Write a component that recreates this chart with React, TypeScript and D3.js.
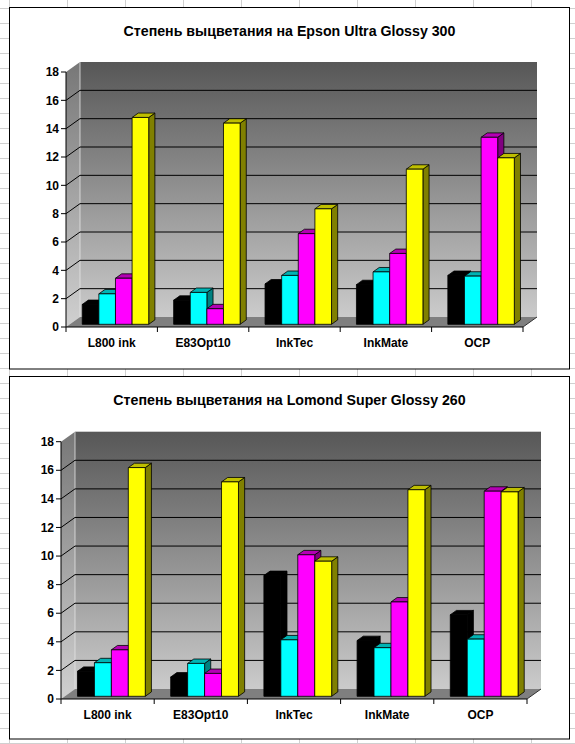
import * as d3 from 'd3'

const CATEGORIES = ['L800 ink', 'E83Opt10', 'InkTec', 'InkMate', 'OCP']
const SERIES = ['black', 'cyan', 'magenta', 'yellow']
const Y_TICKS = [0, 2, 4, 6, 8, 10, 12, 14, 16, 18]

// Epson Ultra Glossy 300
const EPSON_BLACK = [1.4, 1.7, 2.85, 2.8, 3.45]
const EPSON_CYAN = [2.15, 2.25, 3.45, 3.7, 3.4]
const EPSON_MAGENTA = [3.25, 1.1, 6.4, 5.0, 13.2]
const EPSON_YELLOW = [14.6, 14.2, 8.15, 10.95, 11.75]

// Lomond Super Glossy 260
const LOMOND_BLACK = [1.75, 1.35, 8.45, 3.9, 5.7]
const LOMOND_CYAN = [2.35, 2.3, 3.95, 3.4, 4.0]
const LOMOND_MAGENTA = [3.25, 1.6, 9.9, 6.6, 14.35]
const LOMOND_YELLOW = [16.0, 15.0, 9.45, 14.45, 14.3]

const FACES: Record<string, { front: string; top: string; side: string }> = {
  black: { front: '#000000', top: '#000000', side: '#000000' },
  cyan: { front: '#00ffff', top: '#00b4b4', side: '#008080' },
  magenta: { front: '#ff00ff', top: '#b400b4', side: '#800080' },
  yellow: { front: '#ffff00', top: '#bfbf00', side: '#808000' },
}

const FONT = '"Liberation Sans", Arial, sans-serif'
const DX = 14
const DY = 10
// bars sit between these fractions of the floor depth
const F0 = 0.27
const F1 = 0.71

interface Box { x: number; y: number; w: number; h: number }
interface Plot { left: number; right: number; top: number; bottom: number }

const pts = (p: [number, number][]) => p.map((d) => d.join(',')).join(' ')

function Chart({ id, title, box, plot, values }: {
  id: string
  title: string
  box: Box
  plot: Plot
  values: number[][]
}) {
  const x = d3.scaleBand<string>().domain(CATEGORIES).range([plot.left, plot.right])
  const inner = d3.scaleBand<string>().domain(SERIES).range([0, x.bandwidth()]).paddingOuter(0.75)
  const y = d3.scaleLinear().domain([0, 18]).range([plot.bottom, plot.top])

  const ox = F0 * DX
  const oy = F0 * DY
  const bdx = (F1 - F0) * DX
  const bdy = (F1 - F0) * DY
  const bw = inner.bandwidth()

  const { left: L, right: R, top: T, bottom: B } = plot

  return (
    <g>
      <defs>
        <linearGradient id={`${id}-back`} x1="0" y1="0" x2="0" y2="1">
          <stop offset="0" stopColor="#575757" />
          <stop offset="1" stopColor="#cbcbcb" />
        </linearGradient>
        <linearGradient id={`${id}-side`} x1="0" y1="0" x2="0" y2="1">
          <stop offset="0" stopColor="#777777" />
          <stop offset="1" stopColor="#d0d0d0" />
        </linearGradient>
      </defs>
      <rect x={box.x} y={box.y} width={box.w} height={box.h} fill="#fff" stroke="#000" strokeWidth={1} />
      <text
        x={box.x + box.w / 2}
        y={box.y + 28}
        textAnchor="middle"
        fontFamily={FONT}
        fontWeight="bold"
        fontSize={14.2}
        fill="#000"
      >
        {title}
      </text>

      {/* walls */}
      <rect x={L + DX} y={T - DY} width={R - L} height={B - T} fill={`url(#${id}-back)`} />
      <polygon
        points={pts([[L, T], [L + DX, T - DY], [L + DX, B - DY], [L, B]])}
        fill={`url(#${id}-side)`}
      />
      <line x1={L + DX} x2={L + DX} y1={T - DY} y2={B - DY} stroke="#e4e4e4" strokeWidth={0.8} />
      <polygon
        points={pts([[L, B], [R, B], [R + DX, B - DY], [L + DX, B - DY]])}
        fill="#7f7f7f"
      />

      {/* gridlines */}
      {Y_TICKS.filter((v) => v > 0 && v < 18).map((v) => (
        <g key={v}>
          <line x1={L + DX} x2={R + DX} y1={y(v) - DY} y2={y(v) - DY} stroke="#000" strokeWidth={1} />
          <line x1={L} x2={L + DX} y1={y(v)} y2={y(v) - DY} stroke="#000" strokeWidth={1} />
        </g>
      ))}

      {/* bars, left to right */}
      {CATEGORIES.map((c, ci) =>
        SERIES.map((s, si) => {
          const x0 = (x(c) ?? 0) + (inner(s) ?? 0) + ox
          const yb = B - oy
          const yt = y(values[si][ci]) - oy
          const f = FACES[s]
          return (
            <g key={`${c}-${s}`} stroke="#000" strokeWidth={0.8} strokeLinejoin="round">
              <polygon
                points={pts([[x0 + bw, yt], [x0 + bw + bdx, yt - bdy], [x0 + bw + bdx, yb - bdy], [x0 + bw, yb]])}
                fill={f.side}
              />
              <polygon
                points={pts([[x0, yt], [x0 + bw, yt], [x0 + bw + bdx, yt - bdy], [x0 + bdx, yt - bdy]])}
                fill={f.top}
              />
              <rect x={x0} y={yt} width={bw} height={yb - yt} fill={f.front} />
            </g>
          )
        })
      )}

      {/* axes */}
      <line x1={L} x2={L} y1={T} y2={B} stroke="#000" />
      <line x1={L} x2={R} y1={B} y2={B} stroke="#000" />
      <line x1={R} x2={R + DX} y1={B} y2={B - DY} stroke="#333" />
      {Y_TICKS.map((v) => (
        <g key={v}>
          <line x1={L - 5} x2={L} y1={y(v)} y2={y(v)} stroke="#000" />
          <text
            x={L - 7}
            y={y(v)}
            dy="0.35em"
            textAnchor="end"
            fontFamily={FONT}
            fontWeight="bold"
            fontSize={12}
          >
            {v}
          </text>
        </g>
      ))}
      {[...CATEGORIES.map((c) => x(c) ?? 0), R].map((px, i) => (
        <line key={i} x1={px} x2={px} y1={B} y2={B + 5} stroke="#000" />
      ))}
      {CATEGORIES.map((c) => (
        <text
          key={c}
          x={(x(c) ?? 0) + x.bandwidth() / 2}
          y={B + 20}
          textAnchor="middle"
          fontFamily={FONT}
          fontWeight="bold"
          fontSize={12}
        >
          {c}
        </text>
      ))}
    </g>
  )
}

export default function App() {
  const width = 575
  const height = 744
  const cols = d3.range(9, width, 58.05)
  const rows = d3.range(7.5, height, 15.01)

  return (
    <svg
      width={width}
      height={height}
      style={{ position: 'absolute', left: 0, top: 0, background: '#fff' }}
    >
      <g stroke="#d0d0d0" strokeWidth={1}>
        {cols.map((c) => (
          <line key={`c${c}`} x1={Math.round(c) + 0.5} x2={Math.round(c) + 0.5} y1={0} y2={height} />
        ))}
        {rows.map((r) => (
          <line key={`r${r}`} x1={0} x2={width} y1={Math.round(r) + 0.5} y2={Math.round(r) + 0.5} />
        ))}
      </g>
      <Chart
        id="epson"
        title="Степень выцветания на Epson Ultra Glossy 300"
        box={{ x: 9.5, y: 7.5, w: 560, h: 361.5 }}
        plot={{ left: 66, right: 523, top: 72, bottom: 327 }}
        values={[EPSON_BLACK, EPSON_CYAN, EPSON_MAGENTA, EPSON_YELLOW]}
      />
      <Chart
        id="lomond"
        title="Степень выцветания на Lomond Super Glossy 260"
        box={{ x: 9.5, y: 376.5, w: 560, h: 362.5 }}
        plot={{ left: 61, right: 527, top: 441.7, bottom: 699 }}
        values={[LOMOND_BLACK, LOMOND_CYAN, LOMOND_MAGENTA, LOMOND_YELLOW]}
      />
    </svg>
  )
}
